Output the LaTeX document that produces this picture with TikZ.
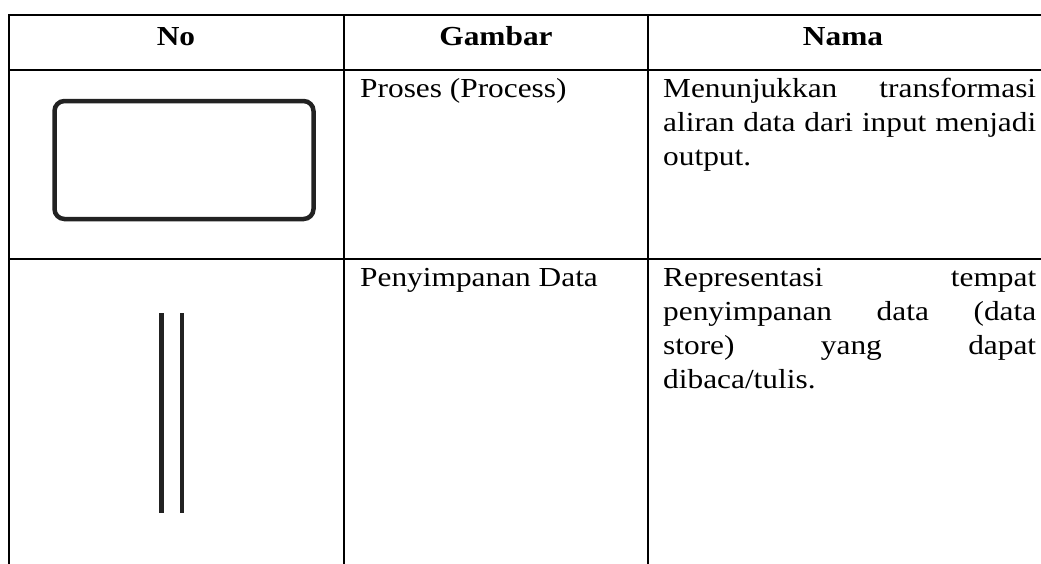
\documentclass[tikz,border=0pt]{standalone}
\usepackage{fontspec}
\setmainfont{Liberation Serif}[FakeStretch=1.14]
\definecolor{ink}{HTML}{222222}
\tikzset{
  grid/.style={line width=2pt},
  head/.style={font=\bfseries\fontsize{27.5}{34}\selectfont, anchor=base, inner sep=0},
  cell/.style={font=\fontsize{27.5}{34}\selectfont, anchor=base west, inner sep=0},
  desc/.style={cell, text width=373pt, align=justify},
  symbol/.style={draw=ink, line width=5pt},
}

\begin{document}
\begin{tikzpicture}[x=1pt,y=-1pt]
  \useasboundingbox (0,0) rectangle (1041,563);
  \clip (0,0) rectangle (1041,563);

  % table lines
  \draw[grid] (8.5,15) -- (1045,15);
  \draw[grid] (8.5,70) -- (1045,70);
  \draw[grid] (8.5,259) -- (1045,259);
  \draw[grid] (8.5,14) -- (8.5,570);
  \draw[grid] (344,14) -- (344,570);
  \draw[grid] (648,14) -- (648,570);

  % header
  \node[head] (hNo) at (176,45) {No};
  \node[head] (hGambar) at (496,45) {Gambar};
  \node[head] (hNama) at (843,45) {Nama};

  % row 1
  \draw[symbol, line width=4.5pt, rounded corners=10pt] (54.5,101) rectangle (313.5,219);
  \node[cell] (gProses) at (360,97.7) {Proses (Process)};
  \node[desc] (nProses) at (663,97.7)
    {Menunjukkan transformasi\linebreak aliran data dari input menjadi\linebreak output.};

  % row 2
  \draw[symbol] (161,313) -- (161,513);
  \draw[symbol, line width=4pt] (182,313) -- (182,513);
  \node[cell] (gSimpan) at (360,286.5) {Penyimpanan Data};
  \node[desc] (nSimpan) at (663,286.5)
    {Representasi tempat\linebreak penyimpanan data (data\linebreak store) yang dapat\linebreak dibaca/tulis.};

\end{tikzpicture}
\end{document}
